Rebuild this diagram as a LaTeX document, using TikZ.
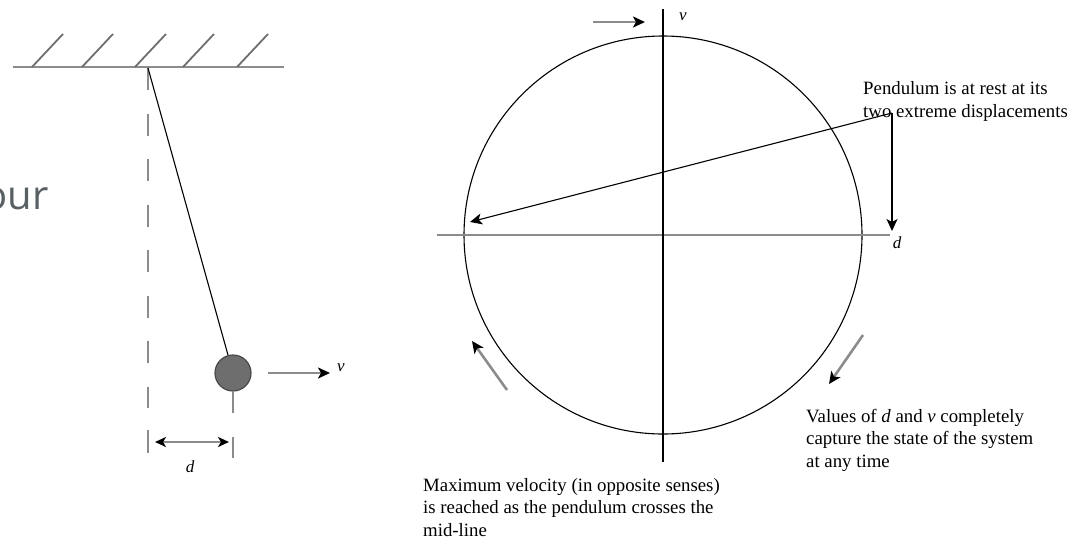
\documentclass[tikz,border=0pt]{standalone}
\usepackage{fontspec}
\setmainfont{Liberation Serif}
\newfontfamily\slidefont{Open Sans}
\usetikzlibrary{arrows.meta}
\definecolor{linegray}{HTML}{8C8C8C}
\definecolor{hatchgray}{HTML}{6E6E6E}
\definecolor{bobfill}{HTML}{6E6E6E}
\definecolor{bobline}{HTML}{484848}
\definecolor{slidetext}{HTML}{596063}
\begin{document}
\begin{tikzpicture}[x=1pt,y=-1pt,
  grayline/.style={draw=linegray,line width=2.6pt},
  hatch/.style={draw=hatchgray,line width=1.8pt},
  thinline/.style={draw=black,line width=1.1pt},
  tip/.style={-{Stealth[length=12pt,width=11pt,inset=3pt,black]}},
  bothtips/.style={{Stealth[length=11pt,width=10pt,inset=3pt,black]}-{Stealth[length=11pt,width=10pt,inset=3pt,black]}},
  note/.style={font=\fontsize{18.8}{22.5}\selectfont,align=left,inner sep=0pt,anchor=base west},
  lbl/.style={font=\fontsize{17}{20}\selectfont\itshape,inner sep=0pt}]
\useasboundingbox (0,0) rectangle (1073,539);

% slide fragment
\node[font=\slidefont\fontsize{40}{46}\selectfont,text=slidetext,anchor=base east,inner sep=0pt] (slide) at (49,209) {our};

% ceiling
\coordinate (ceilL) at (13,67);
\coordinate (ceilR) at (284,67);
\draw[grayline] (ceilL) -- (ceilR);
\foreach \x in {32,82,135,183,237} \draw[hatch] (\x,67) -- ++(31,-33);

% pendulum
\coordinate (pivot) at (148,68);
\coordinate (dashend) at (148,408);
\node[circle,draw=bobline,fill=bobfill,line width=1.2pt,minimum size=36pt,inner sep=0pt] (bob) at (233,373) {};
\draw[grayline,dash pattern=on 22pt off 23.5pt] (pivot) -- (dashend);
\draw[thinline] (pivot) -- (bob);
\coordinate (stemend) at (233,413);
\draw[grayline] (bob.south) -- (stemend);
\coordinate (tickLa) at (148,430); \coordinate (tickLb) at (148,453);
\coordinate (tickRa) at (233,437); \coordinate (tickRb) at (233,458);
\draw[grayline] (tickLa) -- (tickLb);
\draw[grayline] (tickRa) -- (tickRb);
\coordinate (dL) at (155,442); \coordinate (dR) at (229,442);
\draw[grayline,bothtips] (dL) -- (dR);
\node[lbl] (dlabel) at (190,467) {d};
\coordinate (vA) at (268,373); \coordinate (vB) at (330,373);
\draw[grayline,tip] (vA) -- (vB);
\node[lbl] (vlabel) at (341,368) {v};

% phase diagram
\node[circle,draw=black,line width=1.1pt,minimum size=398pt,inner sep=0pt] (phase) at (663,235) {};
\coordinate (hL) at (437,235); \coordinate (hR) at (890,235);
\draw[grayline] (hL) -- (hR);
\coordinate (vT) at (663,9); \coordinate (vBot) at (663,462);
\draw[thinline] (vT) -- (vBot);
\coordinate (topA) at (593,22); \coordinate (topB) at (645,22);
\draw[grayline,tip] (topA) -- (topB);
\node[lbl] (vaxis) at (683,17) {v};
\node[lbl] (daxis) at (897,243) {d};

\coordinate (bend) at (892,113);
\coordinate (restL) at (470,222);
\coordinate (restR) at (892,231);
\draw[thinline,tip] (bend) -- (restL);
\draw[thinline,tip] (bend) -- (restR);

\coordinate (llA) at (507,390); \coordinate (llB) at (472,341);
\draw[grayline,tip] (llA) -- (llB);
\coordinate (lrA) at (863,335); \coordinate (lrB) at (829,384);
\draw[grayline,tip] (lrA) -- (lrB);

% notes (base anchor = baseline of the last line)
\node[note] (restnote) at (863,117) {Pendulum is at rest at its\\two extreme displacements};
\node[note] (statenote) at (806,467) {Values of \textit{d} and \textit{v} completely\\capture the state of the system\\at any time};
\node[note] (maxnote) at (423,536) {Maximum velocity (in opposite senses)\\is reached as the pendulum crosses the\\mid-line};
\end{tikzpicture}
\end{document}
